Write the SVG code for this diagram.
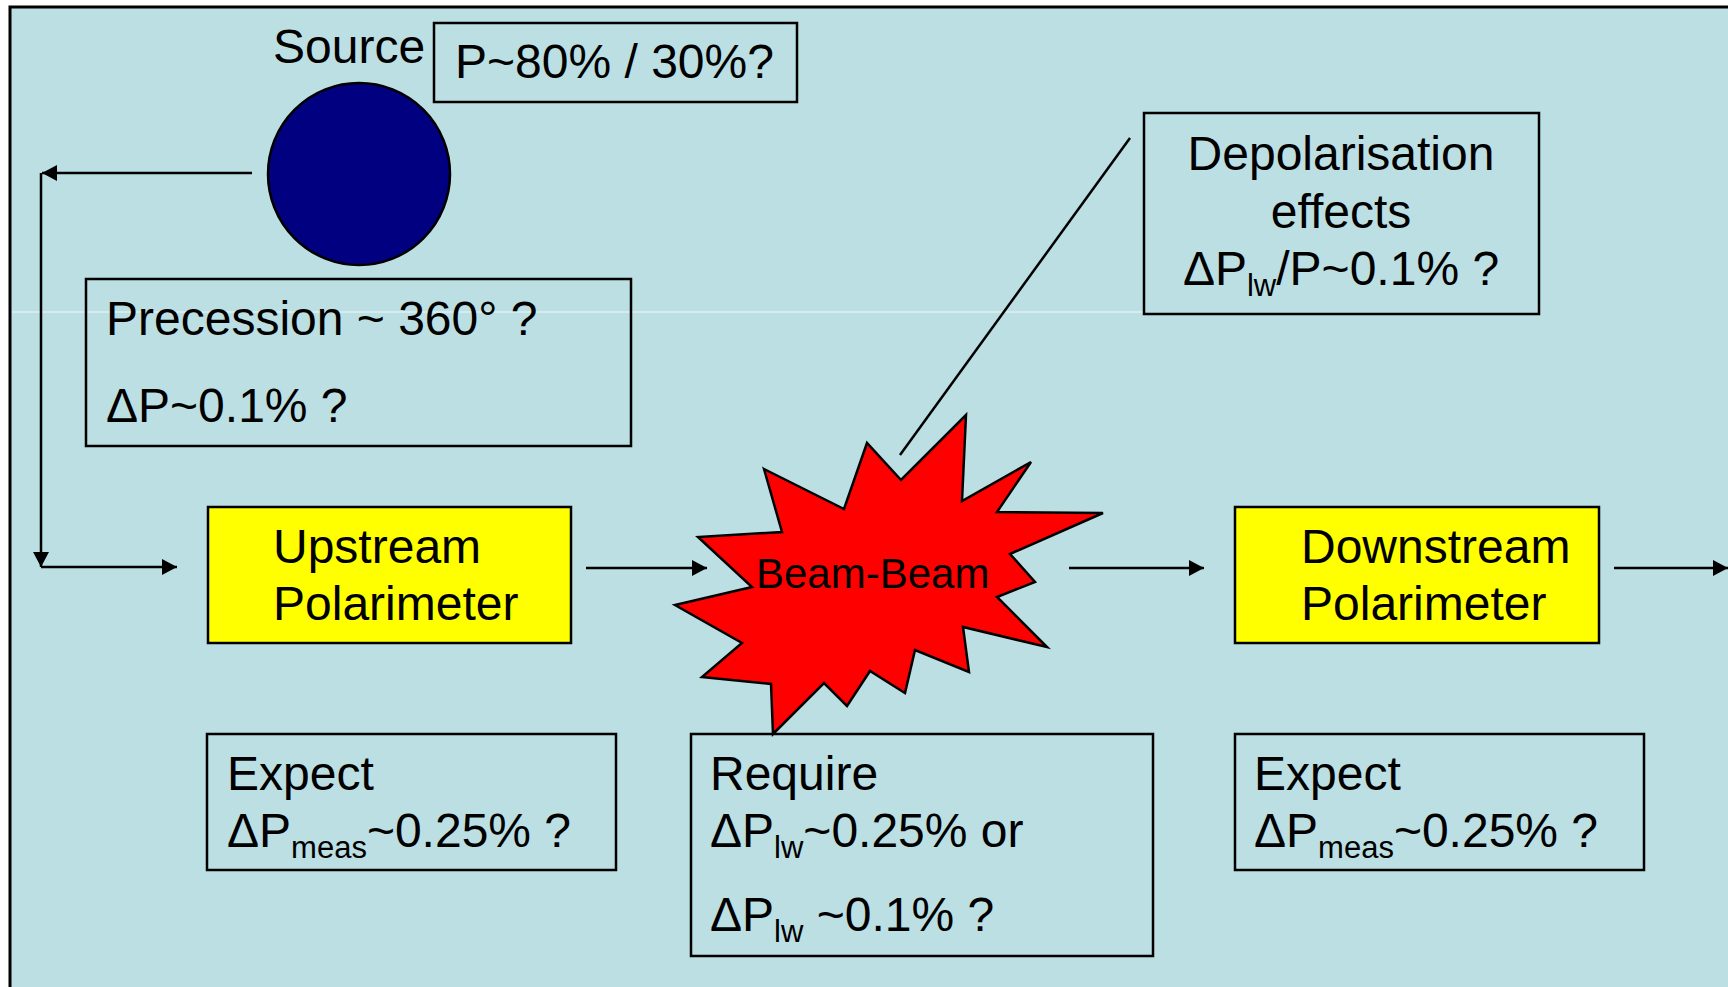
<svg xmlns="http://www.w3.org/2000/svg" width="1728" height="987" viewBox="0 0 1728 987">
<style>
.t{font-family:"Liberation Sans",Arial,sans-serif;font-size:48px;fill:#000}
.s{font-size:31px}
.box{fill:none;stroke:#000;stroke-width:2.5}
.ybox{fill:#FFFF00;stroke:#000;stroke-width:2.5}
.con{fill:none;stroke:#000;stroke-width:2.5}
</style>
<defs>
<marker id="ah" markerUnits="userSpaceOnUse" markerWidth="16" markerHeight="16" refX="15" refY="8" orient="auto">
<path d="M0,0 L15,8 L0,16 Z" fill="#000"/>
</marker>
</defs>
<rect x="0" y="0" width="1728" height="987" fill="#fff"/>
<rect x="10" y="7" width="1740" height="1000" fill="#BBDFE2" stroke="#000" stroke-width="3"/>
<line x1="12" y1="312" x2="1144" y2="312" stroke="#fff" stroke-width="1" opacity="0.8"/>

<g id="source">
<circle cx="359" cy="174" r="91" fill="#000080" stroke="#000" stroke-width="2.5"/>
<text class="t" x="273" y="63">Source</text>
</g>
<g id="pbox">
<rect class="box" x="434" y="23" width="363" height="79"/>
<text class="t" x="455" y="78">P~80% / 30%?</text>
</g>
<g id="precession">
<rect class="box" x="86" y="279" width="545" height="167"/>
<text class="t" x="106" y="335">Precession ~ 360° ?</text>
<text class="t" x="106" y="422">ΔP~0.1% ?</text>
</g>
<g id="depol">
<rect class="box" x="1144" y="113" width="395" height="201"/>
<text class="t" x="1341" y="170" text-anchor="middle">Depolarisation</text>
<text class="t" x="1341" y="228" text-anchor="middle">effects</text>
<text class="t" x="1341" y="285" text-anchor="middle">ΔP<tspan class="s" dy="11">lw</tspan><tspan dy="-11">/P~0.1% ?</tspan></text>
</g>
<g id="upstream">
<rect class="ybox" x="208" y="507" width="363" height="136"/>
<text class="t" x="273" y="563">Upstream</text>
<text class="t" x="273" y="620">Polarimeter</text>
</g>
<g id="downstream">
<rect class="ybox" x="1235" y="507" width="364" height="136"/>
<text class="t" x="1301" y="563">Downstream</text>
<text class="t" x="1301" y="620">Polarimeter</text>
</g>
<g id="expect-up">
<rect class="box" x="207" y="734" width="409" height="136"/>
<text class="t" x="227" y="790">Expect</text>
<text class="t" x="227" y="847">ΔP<tspan class="s" dy="11">meas</tspan><tspan dy="-11">~0.25% ?</tspan></text>
</g>
<g id="require">
<rect class="box" x="691" y="734" width="462" height="222"/>
<text class="t" x="710" y="790">Require</text>
<text class="t" x="710" y="847">ΔP<tspan class="s" dy="11">lw</tspan><tspan dy="-11">~0.25% or</tspan></text>
<text class="t" x="710" y="931">ΔP<tspan class="s" dy="11">lw</tspan><tspan dy="-11"> ~0.1% ?</tspan></text>
</g>
<g id="expect-down">
<rect class="box" x="1235" y="734" width="409" height="136"/>
<text class="t" x="1254" y="790">Expect</text>
<text class="t" x="1254" y="847">ΔP<tspan class="s" dy="11">meas</tspan><tspan dy="-11">~0.25% ?</tspan></text>
</g>
<g id="beambeam">
<polygon points="764,469 844,509 867,443 901,480 966,415 962,501 1031,462 997,512 1103,513 1010,554 1035,582 997,597 1047,647 963,627 969,672 915,650 905,693 870,671 847,706 824,683 773,734 771,684 702,677 742,643 675,605 752,587 698,537 782,532" fill="#FF0000" stroke="#000" stroke-width="2.5" stroke-linejoin="miter"/>
<text class="t" x="756" y="588" style="font-size:42px">Beam-Beam</text>
</g>
<g id="connectors">
<path class="con" d="M252,173 H42" marker-end="url(#ah)"/>
<path class="con" d="M41,173 V567" marker-end="url(#ah)"/>
<path class="con" d="M41,567 H177" marker-end="url(#ah)"/>
<path class="con" d="M586,568 H707" marker-end="url(#ah)"/>
<path class="con" d="M1069,568 H1204" marker-end="url(#ah)"/>
<path class="con" d="M1614,568 H1728" marker-end="url(#ah)"/>
<path class="con" d="M1130,138 L900,455"/>
</g>
</svg>
